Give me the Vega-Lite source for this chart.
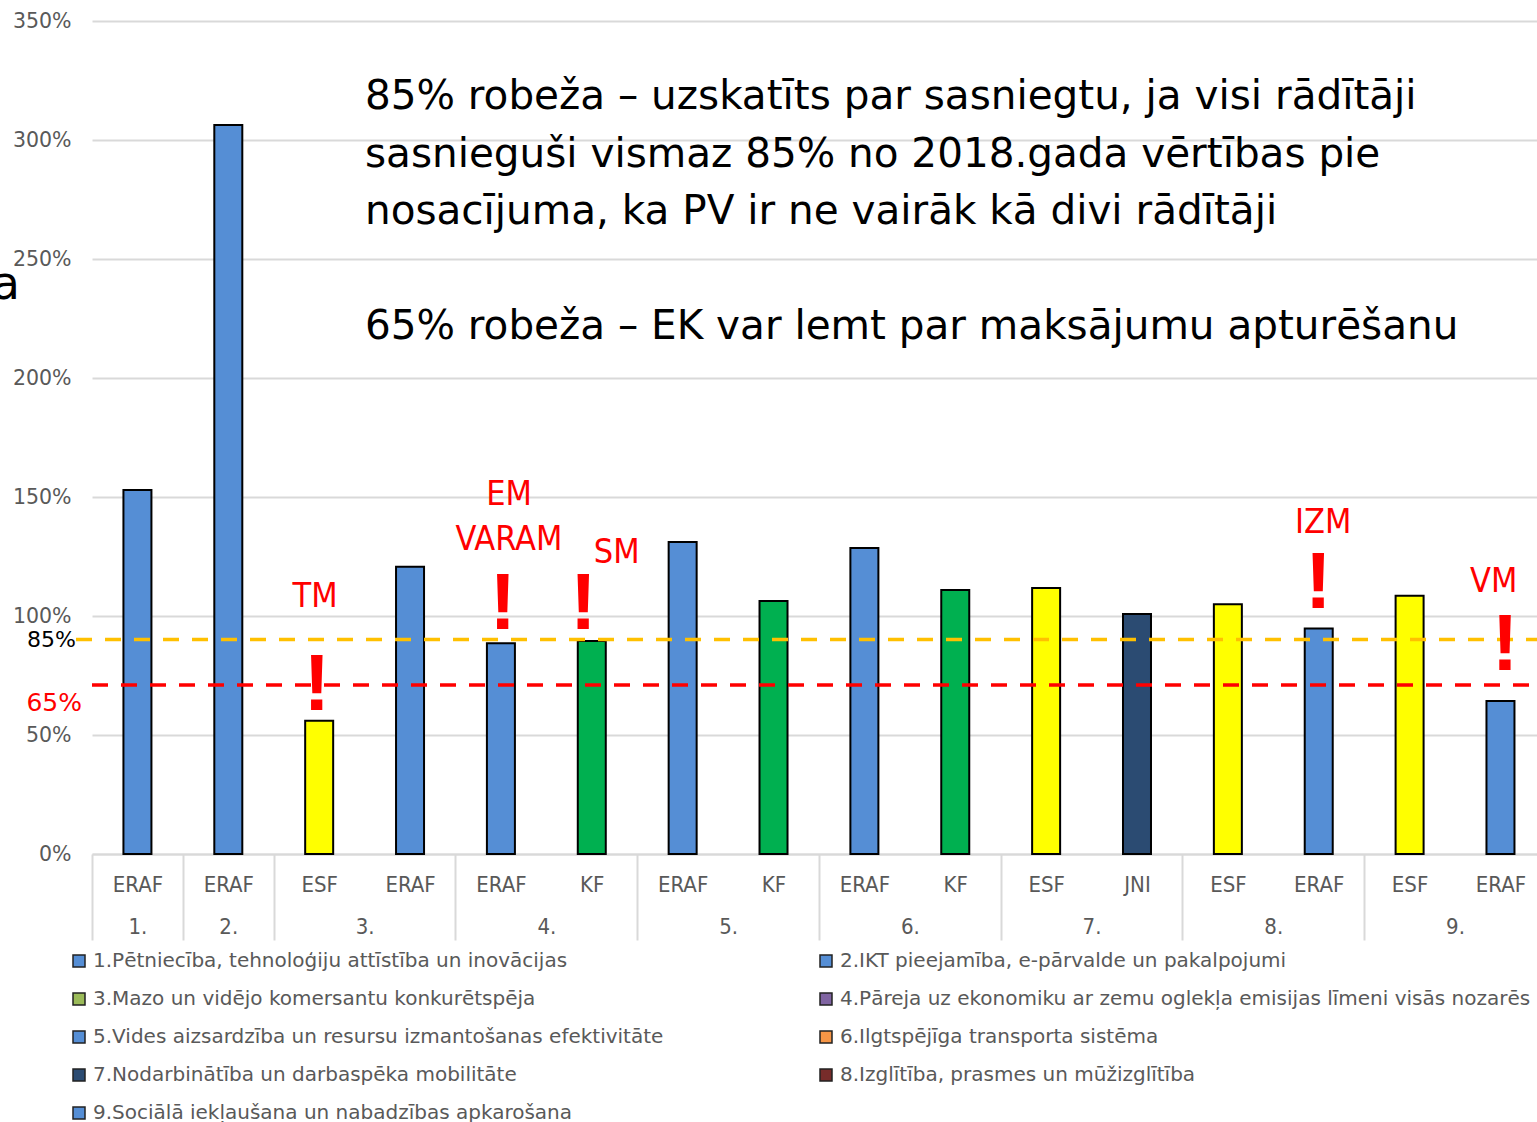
{
  "$schema": "https://vega.github.io/schema/vega-lite/v6.json",
  "width": 1445,
  "height": 833,
  "autosize": {"type": "none"},
  "padding": {"left": 92, "top": 21, "right": 0, "bottom": 268},
  "background": "white",
  "config": {"view": {"stroke": null}, "font": "DejaVu Sans"},
  "datasets": {
    "bars": [
      {"i": 1, "group": "1.", "fund": "ERAF", "value": 152.9},
      {"i": 2, "group": "2.", "fund": "ERAF", "value": 306.3},
      {"i": 3, "group": "3.", "fund": "ESF", "value": 56.0},
      {"i": 4, "group": "3.", "fund": "ERAF", "value": 120.7},
      {"i": 5, "group": "4.", "fund": "ERAF", "value": 88.5},
      {"i": 6, "group": "4.", "fund": "KF", "value": 89.5},
      {"i": 7, "group": "5.", "fund": "ERAF", "value": 131.1},
      {"i": 8, "group": "5.", "fund": "KF", "value": 106.3},
      {"i": 9, "group": "6.", "fund": "ERAF", "value": 128.6},
      {"i": 10, "group": "6.", "fund": "KF", "value": 110.9},
      {"i": 11, "group": "7.", "fund": "ESF", "value": 111.8},
      {"i": 12, "group": "7.", "fund": "JNI", "value": 100.8},
      {"i": 13, "group": "8.", "fund": "ESF", "value": 104.9},
      {"i": 14, "group": "8.", "fund": "ERAF", "value": 94.8},
      {"i": 15, "group": "9.", "fund": "ESF", "value": 108.5},
      {"i": 16, "group": "9.", "fund": "ERAF", "value": 64.3}
    ],
    "groups": [
      {"g": "1.", "c": 1}, {"g": "2.", "c": 2}, {"g": "3.", "c": 3.5},
      {"g": "4.", "c": 5.5}, {"g": "5.", "c": 7.5}, {"g": "6.", "c": 9.5},
      {"g": "7.", "c": 11.5}, {"g": "8.", "c": 13.5}, {"g": "9.", "c": 15.5}
    ],
    "bounds": [
      {"b": 0.5}, {"b": 1.5}, {"b": 2.5}, {"b": 4.5}, {"b": 6.5},
      {"b": 8.5}, {"b": 10.5}, {"b": 12.5}, {"b": 14.5}, {"b": 16.5}
    ],
    "thresholds": [
      {"level": "85%", "y": 90.1, "from": 0.324, "to": 16.402},
      {"level": "65%", "y": 71.0, "from": 0.5, "to": 16.402}
    ],
    "ministries": [
      {"t": "TM", "x": 2.954, "y": 103.8},
      {"t": "EM", "x": 5.089, "y": 146.6},
      {"t": "VARAM", "x": 5.089, "y": 127.7},
      {"t": "SM", "x": 6.274, "y": 122.4},
      {"t": "IZM", "x": 14.05, "y": 135.0},
      {"t": "VM", "x": 15.925, "y": 110.2}
    ],
    "alerts": [
      {"t": "!", "x": 2.973, "y": 60.5},
      {"t": "!", "x": 5.02, "y": 94.4},
      {"t": "!", "x": 5.907, "y": 94.4},
      {"t": "!", "x": 13.995, "y": 103.2},
      {"t": "!", "x": 16.05, "y": 77.3}
    ],
    "note": [
      {"x": 3.504, "y": 313.0, "t": [
        "85% robeža – uzskatīts par sasniegtu, ja visi rādītāji",
        "sasnieguši vismaz 85% no 2018.gada vērtības pie",
        "nosacījuma, ka PV ir ne vairāk kā divi rādītāji"
      ]},
      {"x": 3.504, "y": 216.4, "t": ["65% robeža – EK var lemt par maksājumu apturēšanu"]}
    ],
    "prio": [
      {"p": "1.Pētniecība, tehnoloģiju attīstība un inovācijas"},
      {"p": "2.IKT pieejamība, e-pārvalde un pakalpojumi"},
      {"p": "3.Mazo un vidējo komersantu konkurētspēja"},
      {"p": "4.Pāreja uz ekonomiku ar zemu oglekļa emisijas līmeni visās nozarēs"},
      {"p": "5.Vides aizsardzība un resursu izmantošanas efektivitāte"},
      {"p": "6.Ilgtspējīga transporta sistēma"},
      {"p": "7.Nodarbinātība un darbaspēka mobilitāte"},
      {"p": "8.Izglītība, prasmes un mūžizglītība"},
      {"p": "9.Sociālā iekļaušana un nabadzības apkarošana"}
    ]
  },
  "layer": [
    {
      "data": {"name": "bars"},
      "mark": {"type": "bar", "orient": "vertical", "width": 28, "stroke": "#000000", "strokeWidth": 2},
      "encoding": {
        "x": {"field": "i", "type": "quantitative",
          "scale": {"domain": [0.5, 16.402], "nice": false, "zero": false, "padding": 0},
          "axis": {"orient": "bottom", "values": [1,2,3,4,5,6,7,8,9,10,11,12,13,14,15,16],
            "labelExpr": "['ERAF','ERAF','ESF','ERAF','ERAF','KF','ERAF','KF','ERAF','KF','ESF','JNI','ESF','ERAF','ESF','ERAF'][datum.value-1]",
            "ticks": false, "tickSize": 0, "labelPadding": 20, "grid": false,
            "domainColor": "#d9d9d9", "domainWidth": 2,
            "labelFont": "DejaVu Sans Condensed", "labelFontSize": 22, "labelColor": "#595959",
            "labelFlush": false, "labelOverlap": false, "labelBound": false, "title": null}},
        "y": {"field": "value", "type": "quantitative",
          "scale": {"domain": [0, 350], "nice": false, "zero": false, "padding": 0},
          "axis": {"orient": "left", "values": [0,50,100,150,200,250,300,350], "labelExpr": "datum.value + '%'",
            "ticks": false, "tickSize": 0, "domain": false, "grid": true,
            "gridColor": "#d9d9d9", "gridWidth": 2, "labelPadding": 21,
            "labelFont": "DejaVu Sans", "labelFontSize": 20.5, "labelColor": "#595959",
            "labelOverlap": false, "title": null}},
        "fill": {"field": "fund", "type": "nominal",
          "scale": {"domain": ["ERAF", "ESF", "KF", "JNI"], "range": ["#558ED5", "#FFFF00", "#00B050", "#2B4B72"]},
          "legend": null}
      }
    },
    {
      "data": {"name": "groups"},
      "mark": {"type": "text", "opacity": 0},
      "encoding": {
        "x": {"field": "c", "type": "quantitative",
          "scale": {"domain": [0.5, 16.402], "nice": false, "zero": false, "padding": 0},
          "axis": {"orient": "bottom", "values": [1, 2, 3.5, 5.5, 7.5, 9.5, 11.5, 13.5, 15.5],
            "labelExpr": "(datum.value < 3 ? datum.value : (datum.value + 2.5) / 2) + '.'",
            "ticks": false, "tickSize": 0, "domain": false, "grid": false, "labelPadding": 62,
            "labelFont": "DejaVu Sans Condensed", "labelFontSize": 22, "labelColor": "#595959",
            "labelFlush": false, "labelOverlap": false, "labelBound": false, "title": null}},
        "text": {"field": "g"}
      }
    },
    {
      "data": {"name": "bounds"},
      "mark": {"type": "text", "opacity": 0},
      "encoding": {
        "x": {"field": "b", "type": "quantitative",
          "scale": {"domain": [0.5, 16.402], "nice": false, "zero": false, "padding": 0},
          "axis": {"orient": "bottom", "values": [0.5, 1.5, 2.5, 4.5, 6.5, 8.5, 10.5, 12.5, 14.5, 16.5],
            "labels": false, "ticks": true, "tickSize": 86, "tickColor": "#d9d9d9", "tickWidth": 2,
            "domain": false, "grid": false, "title": null}},
        "text": {"value": ""}
      }
    },
    {
      "data": {"name": "thresholds"},
      "mark": {"type": "rule", "strokeWidth": 3.5, "strokeDash": [16, 13]},
      "encoding": {
        "x": {"field": "from", "type": "quantitative", "scale": {"domain": [0.5, 16.402], "nice": false, "zero": false, "padding": 0}, "axis": null},
        "x2": {"field": "to"},
        "y": {"field": "y", "type": "quantitative", "scale": {"domain": [0, 350], "nice": false, "zero": false, "padding": 0}, "axis": null},
        "stroke": {"field": "level", "type": "nominal",
          "scale": {"domain": ["85%", "65%"], "range": ["#FFC000", "#FF0000"]}, "legend": null}
      }
    },
    {
      "data": {"name": "ministries"},
      "mark": {"type": "text", "font": "DejaVu Sans Condensed", "fontSize": 34, "color": "#FF0000", "align": "center", "baseline": "alphabetic"},
      "encoding": {
        "x": {"field": "x", "type": "quantitative", "scale": {"domain": [0.5, 16.402], "nice": false, "zero": false, "padding": 0}, "axis": null},
        "y": {"field": "y", "type": "quantitative", "scale": {"domain": [0, 350], "nice": false, "zero": false, "padding": 0}, "axis": null},
        "text": {"field": "t"}
      }
    },
    {
      "data": {"name": "alerts"},
      "mark": {"type": "text", "font": "Liberation Sans", "fontWeight": "bold", "fontSize": 80, "color": "#FF0000", "align": "center", "baseline": "alphabetic"},
      "encoding": {
        "x": {"field": "x", "type": "quantitative", "scale": {"domain": [0.5, 16.402], "nice": false, "zero": false, "padding": 0}, "axis": null},
        "y": {"field": "y", "type": "quantitative", "scale": {"domain": [0, 350], "nice": false, "zero": false, "padding": 0}, "axis": null},
        "text": {"field": "t"}
      }
    },
    {
      "data": {"name": "note"},
      "mark": {"type": "text", "font": "DejaVu Sans", "fontSize": 40.5, "color": "#000000", "align": "left", "baseline": "alphabetic", "lineHeight": 57.5},
      "encoding": {
        "x": {"field": "x", "type": "quantitative", "scale": {"domain": [0.5, 16.402], "nice": false, "zero": false, "padding": 0}, "axis": null},
        "y": {"field": "y", "type": "quantitative", "scale": {"domain": [0, 350], "nice": false, "zero": false, "padding": 0}, "axis": null},
        "text": {"field": "t"}
      }
    },
    {
      "data": {"values": [{"t": "85%", "x": 0.324, "y": 87.0}]},
      "mark": {"type": "text", "font": "DejaVu Sans", "fontSize": 22, "color": "#000000", "align": "right", "baseline": "alphabetic"},
      "encoding": {
        "x": {"field": "x", "type": "quantitative", "scale": {"domain": [0.5, 16.402], "nice": false, "zero": false, "padding": 0}, "axis": null},
        "y": {"field": "y", "type": "quantitative", "scale": {"domain": [0, 350], "nice": false, "zero": false, "padding": 0}, "axis": null},
        "text": {"field": "t"}
      }
    },
    {
      "data": {"values": [{"t": "65%", "x": 0.39, "y": 60.1}]},
      "mark": {"type": "text", "font": "DejaVu Sans", "fontSize": 25, "color": "#FF0000", "align": "right", "baseline": "alphabetic"},
      "encoding": {
        "x": {"field": "x", "type": "quantitative", "scale": {"domain": [0.5, 16.402], "nice": false, "zero": false, "padding": 0}, "axis": null},
        "y": {"field": "y", "type": "quantitative", "scale": {"domain": [0, 350], "nice": false, "zero": false, "padding": 0}, "axis": null},
        "text": {"field": "t"}
      }
    },
    {
      "data": {"values": [{"t": "a", "x": -0.292, "y": 233.2}]},
      "mark": {"type": "text", "font": "DejaVu Sans", "fontSize": 46, "color": "#000000", "align": "right", "baseline": "alphabetic"},
      "encoding": {
        "x": {"field": "x", "type": "quantitative", "scale": {"domain": [0.5, 16.402], "nice": false, "zero": false, "padding": 0}, "axis": null},
        "y": {"field": "y", "type": "quantitative", "scale": {"domain": [0, 350], "nice": false, "zero": false, "padding": 0}, "axis": null},
        "text": {"field": "t"}
      }
    },
    {
      "data": {"name": "prio"},
      "mark": {"type": "square", "opacity": 0},
      "encoding": {
        "color": {"field": "p", "type": "nominal",
          "scale": {"domain": [
            "1.Pētniecība, tehnoloģiju attīstība un inovācijas",
            "2.IKT pieejamība, e-pārvalde un pakalpojumi",
            "3.Mazo un vidējo komersantu konkurētspēja",
            "4.Pāreja uz ekonomiku ar zemu oglekļa emisijas līmeni visās nozarēs",
            "5.Vides aizsardzība un resursu izmantošanas efektivitāte",
            "6.Ilgtspējīga transporta sistēma",
            "7.Nodarbinātība un darbaspēka mobilitāte",
            "8.Izglītība, prasmes un mūžizglītība",
            "9.Sociālā iekļaušana un nabadzības apkarošana"],
            "range": ["#558ED5", "#558ED5", "#9BBB59", "#8064A2", "#558ED5", "#F79646", "#2B4B72", "#772C2A", "#558ED5"]},
          "legend": {"orient": "none", "direction": "horizontal", "legendX": -23, "legendY": 930, "columns": 2,
            "columnPadding": 152, "rowPadding": 18, "padding": 0,
            "symbolType": "square", "symbolSize": 144,
            "labelFont": "DejaVu Sans", "labelFontSize": 20, "labelColor": "#595959",
            "labelLimit": 1000, "labelOffset": 4, "title": null,
            "encode": {"symbols": {"update": {"opacity": {"value": 1}, "fillOpacity": {"value": 1},
              "stroke": {"value": "#222222"}, "strokeWidth": {"value": 1.5}}}}}
        }
      }
    }
  ],
  "resolve": {"axis": {"x": "independent", "y": "independent"}}
}
